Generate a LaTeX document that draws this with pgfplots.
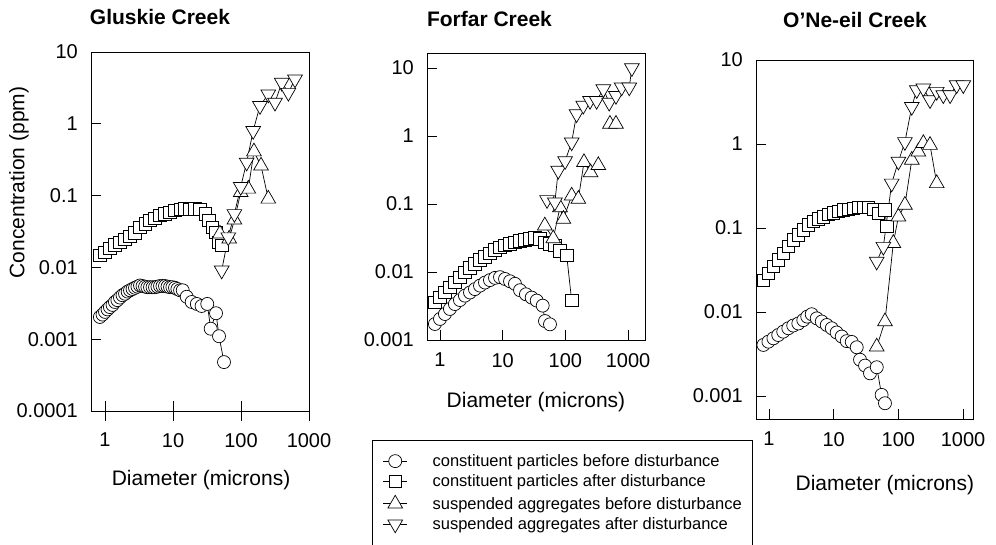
\documentclass[border=0pt]{standalone}
\usepackage{fontspec}
\setmainfont{Liberation Sans}
\usepackage{pgfplots}
\pgfplotsset{compat=1.18}
\pgfplotsset{
  mycommon/.style={
    scale only axis,
    axis line style={line width=0.9pt},
    tick style={black, line width=0.9pt},
    major tick length=10pt,
    tick align=inside,
    tick pos=left,
    xminorticks=false, yminorticks=false,
    xtick={1,10,100,1000}, xticklabels={1,10,100,1000},
    tick label style={font=\fontsize{20}{24}\selectfont},
    yticklabel style={inner sep=0pt, anchor=east, xshift=-13pt},
    label style={font=\fontsize{21}{25}\selectfont},
    unbounded coords=jump,
    clip=false,
  },
  cpb/.style={black, line width=0.7pt, mark=*, mark size=6.5pt, mark options={fill=white, solid}},
  cpa/.style={black, line width=0.7pt, mark=square*, mark size=6.2pt, mark options={fill=white, solid}},
  sab/.style={black, line width=0.7pt, mark=triangle*, mark size=8.5pt, mark options={fill=white, solid}},
  saa/.style={black, line width=0.7pt, mark=triangle*, mark size=8.5pt, mark options={fill=white, solid, rotate=180}},
}
\begin{document}
\begin{tikzpicture}
\useasboundingbox (0pt,0pt) rectangle (996pt,544pt);
\node[font=\bfseries\fontsize{21}{25}\selectfont, anchor=base] at (160pt,519pt) {Gluskie Creek};
\node[font=\bfseries\fontsize{21}{25}\selectfont, anchor=base] at (489.5pt,517pt) {Forfar Creek};
\node[font=\bfseries\fontsize{21}{25}\selectfont, anchor=base] at (855pt,516pt) {O'Ne-eil Creek};

% ---------------- Gluskie Creek ----------------
\begin{loglogaxis}[mycommon,
  at={(91pt,133pt)}, anchor=south west, width=218pt, height=359pt,
  xmin=0.622, xmax=1000, ymin=0.0001, ymax=10,
  ytick={0.0001,0.001,0.01,0.1,1,10},
  yticklabels={0.0001,0.001,0.01,0.1,1,10},
  xticklabel style={inner sep=0pt, anchor=north, yshift=-22pt},
  xlabel={Diameter (microns)},
  xlabel style={at={(axis description cs:0.505,-0.192)}, anchor=center},
  ylabel={Concentration (ppm)},
  ylabel style={at={(axis description cs:-0.330,0.6365)}, anchor=center},
]
\addplot[cpb] coordinates {
(0.84,0.00204) (0.92,0.0022) (1.0,0.0024) (1.09,0.0026) (1.18,0.0028) (1.29,0.0030)
(1.40,0.0033) (1.52,0.0035) (1.66,0.0038) (1.81,0.0041) (1.97,0.0043) (2.15,0.0046)
(2.33,0.0048) (2.54,0.0050) (2.76,0.0052) (3.0,0.0054) (3.27,0.0056) (3.56,0.0055)
(3.88,0.0054) (4.2,0.0053) (4.59,0.0053) (5.0,0.0053) (5.44,0.0053) (5.9,0.0054)
(6.44,0.0055) (7.0,0.0055) (7.63,0.0055) (8.3,0.0054) (9.04,0.0053) (9.8,0.0053)
(10.7,0.0052) (11.6,0.0050) (12.7,0.0048) (13.9,0.0048) (15.9,0.0039) (18.8,0.0033)
(22.4,0.0031) (26.3,0.0029) (31.9,0.0031) (35.8,0.0014) (42.9,0.0023) (47.5,0.0011)
(56.2,0.00048)};
\addplot[cpa] coordinates {
(0.84,0.0147) (1.0,0.0163) (1.18,0.0186) (1.40,0.0206) (1.66,0.0225) (1.97,0.0245)
(2.33,0.0272) (2.76,0.0302) (3.27,0.0363) (3.88,0.0404) (4.59,0.045) (5.44,0.0481)
(6.44,0.0527) (7.63,0.0557) (9.04,0.0585) (10.7,0.062) (12.7,0.0641) (15.0,0.0654)
(17.8,0.0641) (21.0,0.0654) (24.9,0.0641) (29.6,0.0557) (33.8,0.045) (37.8,0.0363)
(42.9,0.031) (46.5,0.0225) (52,0.0202)};
\addplot[sab] coordinates {
(49,0.0294) (67,0.025) (80,0.046) (99,0.111) (128,0.124) (155,0.41) (197,0.26) (252,0.09)};
\addplot[saa] coordinates {
(52,0.0091) (65,0.0264) (80,0.0557) (99,0.133) (121,0.29) (151,0.80) (190,1.78)
(252,2.58) (316,1.98) (398,3.75) (497,2.72) (622,4.17)};
\end{loglogaxis}
% outward halves of the x ticks of the first panel
\begin{semilogxaxis}[scale only axis,
  at={(91pt,133pt)}, anchor=south west, width=218pt, height=359pt,
  xmin=0.622, xmax=1000, ymin=0, ymax=1,
  hide y axis, axis x line*=bottom,
  axis line style={line width=0.9pt, -},
  tick style={black, line width=0.9pt},
  tick align=outside, major tick length=10pt,
  xminorticks=false,
  xtick={1,10,100,1000}, xticklabels={},
]
\end{semilogxaxis}

% ---------------- Forfar Creek ----------------
\begin{loglogaxis}[mycommon,
  at={(427pt,204pt)}, anchor=south west, width=218pt, height=287pt,
  xmin=0.621, xmax=1862, ymin=0.001, ymax=16.6,
  ytick={0.001,0.01,0.1,1,10},
  yticklabels={0.001,0.01,0.1,1,10},
  xticklabel style={inner sep=0pt, anchor=north, yshift=-13pt},
  xlabel={Diameter (microns)},
  xlabel style={at={(axis description cs:0.5,-0.216)}, anchor=center},
  legend style={at={(axis description cs:-0.2523,-0.3484)}, anchor=north west,
    draw=black, line width=0.8pt, fill=white,
    font=\fontsize{16.5}{19.8}\selectfont,
    inner xsep=10.5pt, inner ysep=14pt,
    row sep=7pt, column sep=25pt,
    nodes={inner sep=0pt},
    cells={anchor=west}},
  legend image code/.code={\draw[mark repeat=2,mark phase=2,#1] plot coordinates {(0pt,0pt) (12pt,0pt) (24pt,0pt)};},
]
\addplot[cpb] coordinates {
(0.83,0.00172) (1.0,0.00204) (1.20,0.00241) (1.44,0.00286) (1.73,0.00338) (2.08,0.00387)
(2.50,0.00449) (3.01,0.0050) (3.61,0.0056) (4.35,0.0063) (5.22,0.0070) (6.27,0.0076)
(7.54,0.0082) (9.06,0.0084) (10.9,0.0079) (13.1,0.0073) (15.7,0.0067) (18.9,0.0054)
(23.5,0.0047) (29,0.0042) (34.9,0.0038) (43.5,0.0032) (47.3,0.0019) (56.8,0.0017)};
\addlegendentry{constituent particles before disturbance}
\addplot[cpa] coordinates {
(0.83,0.0036) (1.0,0.00425) (1.20,0.0050) (1.44,0.0060) (1.73,0.0071) (2.08,0.0084)
(2.50,0.0099) (3.01,0.0115) (3.61,0.0131) (4.35,0.015) (5.22,0.0168) (6.27,0.0188)
(7.54,0.0211) (9.06,0.0231) (10.9,0.0244) (13.1,0.0258) (15.7,0.0273) (18.9,0.0289)
(22.7,0.0296) (27.3,0.0306) (32.8,0.0317) (39.4,0.0306) (47.3,0.0273) (56.8,0.0258)
(68.3,0.0244) (82,0.0205) (105,0.0174) (126,0.0038)};
\addlegendentry{constituent particles after disturbance}
\addplot[sab] coordinates {
(47,0.048) (64,0.031) (82,0.089) (93,0.060) (126,0.132) (161,0.118) (198,0.41)
(252,0.29) (335,0.37) (400,nan) (514,1.5) (641,1.5)};
\addlegendentry{suspended aggregates before disturbance}
\addplot[saa] coordinates {
(51,0.115) (68,0.106) (77,0.31) (99,0.43) (126,0.81) (151,2.1) (193,2.8) (247,3.3)
(315,3.3) (403,4.9) (500,3.1) (641,3.9) (790,5.2) (1045,5.2) (1150,10)};
\addlegendentry{suspended aggregates after disturbance}
\end{loglogaxis}

% ---------------- O'Ne-eil Creek ----------------
\begin{loglogaxis}[mycommon,
  at={(756pt,125pt)}, anchor=south west, width=217pt, height=359pt,
  xmin=0.63, xmax=1422, ymin=0.000532, ymax=10,
  ytick={0.001,0.01,0.1,1,10},
  yticklabels={0.001,0.01,0.1,1,10},
  xticklabel style={inner sep=0pt, anchor=north, yshift=-13pt},
  xlabel={Diameter (microns)},
  xlabel style={at={(axis description cs:0.594,-0.184)}, anchor=center},
]
\addplot[cpb] coordinates {
(0.82,0.00405) (0.98,0.00443) (1.17,0.00486) (1.39,0.00532) (1.66,0.00583) (1.99,0.0064)
(2.37,0.0069) (2.84,0.0073) (3.39,0.0080) (3.90,0.0088) (4.57,0.0094) (5.47,0.0084)
(6.54,0.0077) (7.81,0.0070) (9.33,0.0064) (11.1,0.0057) (13.3,0.0051) (15.9,0.0045)
(19.0,0.0044) (22.7,0.0038) (25.5,0.0027) (30.5,0.0023) (36.4,0.00186) (46.3,0.0022)
(55,0.00103) (62,0.00082)};
\addplot[cpa] coordinates {
(0.82,0.024) (0.98,0.0289) (1.17,0.0347) (1.39,0.0416) (1.66,0.050) (1.99,0.060)
(2.37,0.072) (2.84,0.0826) (3.39,0.0946) (4.05,0.109) (4.84,0.119) (5.78,0.128)
(6.91,0.136) (8.26,0.146) (9.86,0.152) (11.8,0.159) (14.1,0.164) (16.8,0.168)
(20.1,0.172) (24,0.175) (28.7,0.175) (34.3,0.175) (41,0.168) (49,0.150) (62,0.164)
(66,0.104)};
\addplot[sab] coordinates {
(46.2,0.00386) (62,0.0077) (83.4,0.066) (100,0.136) (126,0.188) (161,0.645) (203,0.81)
(243,1.02) (308,0.97) (391,0.34)};
\addplot[saa] coordinates {
(46.2,0.040) (58.5,0.060) (78.7,0.34) (100,0.62) (126,1.06) (161,2.78) (192,4.4)
(243,4.6) (308,3.34) (391,4.2) (494,3.83) (630,3.83) (795,5.04) (1006,5.04)};
\end{loglogaxis}
\end{tikzpicture}
\end{document}
